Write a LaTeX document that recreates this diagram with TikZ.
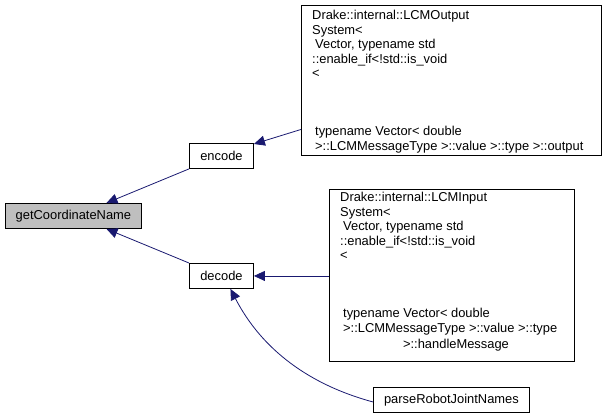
\documentclass[tikz,border=0pt]{standalone}
\usepackage{fontspec}
\setmainfont{Liberation Sans}
\usetikzlibrary{arrows.meta}
\definecolor{edgeblue}{HTML}{191970}
\definecolor{nodegray}{HTML}{BFBFBF}
\tikzset{
  box/.style={draw=black, line width=0.9pt, fill=white, inner sep=0pt, anchor=north west},
  lbl/.style={font=\fontsize{12.9}{14.5}\selectfont, inner sep=0pt},
  txt/.style={font=\fontsize{12.9}{14.5}\selectfont, inner sep=0pt, align=left, anchor=north west},
  conn/.style={draw=edgeblue, line width=0.8pt, -{Triangle[length=11pt,width=10pt]}},
}
\begin{document}
\begin{tikzpicture}[x=1pt,y=-1pt]
\useasboundingbox (0,0) rectangle (607,418);
% small nodes
\node[box, fill=nodegray, minimum width=136pt, minimum height=25pt] (gcn) at (5,203) {};
\node[lbl] (gcnt) at (gcn.center) {getCoordinateName};
\node[box, minimum width=64pt, minimum height=25pt] (enc) at (189,143) {};
\node[lbl] (enct) at (enc.center) {encode};
\node[box, minimum width=64pt, minimum height=25pt] (dec) at (189,263) {};
\node[lbl] (dect) at (dec.center) {decode};
\node[box, minimum width=156pt, minimum height=25pt] (prj) at (373,387) {};
\node[lbl] (prjt) at (prj.center) {parseRobotJointNames};
% big boxes
\node[box, minimum width=300pt, minimum height=150pt] (out) at (301,5) {};
\node[txt] (outt) at (312,10) {Drake::internal::LCMOutput\\System<\\\hspace{3pt}Vector, typename std\\::enable\_if<!std::is\_void\\<\\\mbox{}\\\mbox{}\\\mbox{}\\\hspace{3pt}typename Vector< double\\\hspace{3pt}>::LCMMessageType >::value >::type >::output};
\node[box, minimum width=245pt, minimum height=172pt] (inp) at (329,189) {};
\node[txt] (inpt) at (340,192) {Drake::internal::LCMInput\\System<\\\hspace{3pt}Vector, typename std\\::enable\_if<!std::is\_void\\<\\\mbox{}\\\mbox{}\\\mbox{}\\\hspace{3pt}typename Vector< double\\\hspace{3pt}>::LCMMessageType >::value >::type};
\node[lbl] (inpc) at (456,345) {>::handleMessage};
% connectors
\draw[conn] (enc.south west) -- ([xshift=33pt]gcn.north);
\draw[conn] (dec.north west) -- ([xshift=33pt]gcn.south);
\draw[conn] ([yshift=-49pt]out.west) -- ([yshift=-1pt]enc.north east);
\draw[conn] (inp.west |- dec.east) -- (dec.east);
\draw[conn] ([yshift=-2pt]prj.west) .. controls (310,385) and (262,350) .. ([xshift=9pt]dec.south);
\end{tikzpicture}
\end{document}
